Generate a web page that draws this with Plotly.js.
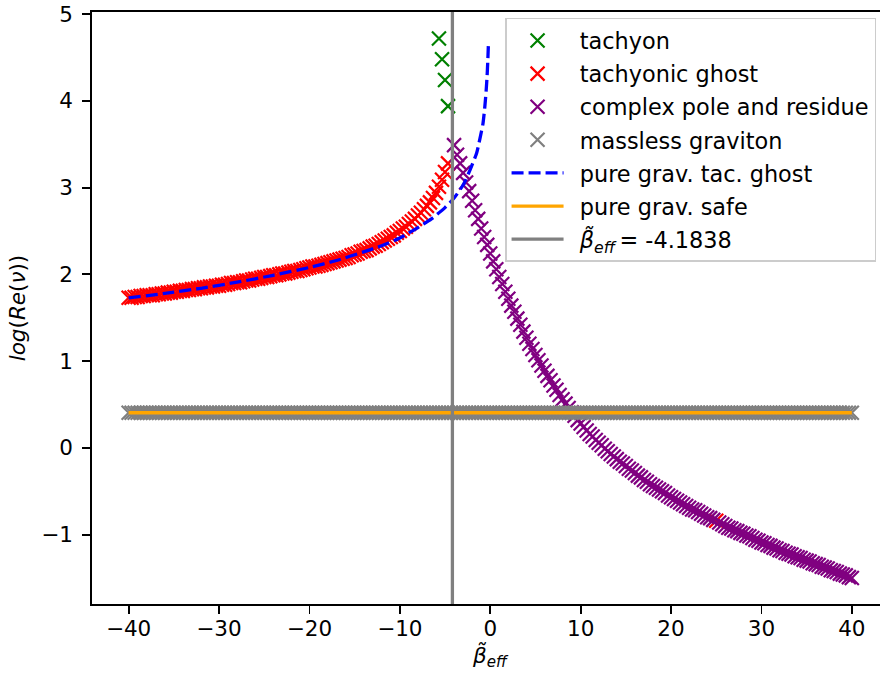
<!DOCTYPE html>
<html>
<head>
<meta charset="utf-8">
<script src="https://cdn.plot.ly/plotly-3.0.1.min.js"></script>
<style>
  html, body { margin: 0; padding: 0; background: #ffffff; overflow: hidden; }
  #chart { width: 900px; height: 679px; }
</style>
</head>
<body>
<div id="chart"></div>
<script>
// Pole classification of the propagator versus the effective coupling beta_eff.
// The scan runs over beta_eff in steps of 1/3; each series lists log(Re(nu)).

const BETA_GRID = [
  -40, -39.67, -39.33, -39, -38.67, -38.33, -38, -37.67, -37.33,
  -37, -36.67, -36.33, -36, -35.67, -35.33, -35, -34.67, -34.33,
  -34, -33.67, -33.33, -33, -32.67, -32.33, -32, -31.67, -31.33,
  -31, -30.67, -30.33, -30, -29.67, -29.33, -29, -28.67, -28.33,
  -28, -27.67, -27.33, -27, -26.67, -26.33, -26, -25.67, -25.33,
  -25, -24.67, -24.33, -24, -23.67, -23.33, -23, -22.67, -22.33,
  -22, -21.67, -21.33, -21, -20.67, -20.33, -20, -19.67, -19.33,
  -19, -18.67, -18.33, -18, -17.67, -17.33, -17, -16.67, -16.33,
  -16, -15.67, -15.33, -15, -14.67, -14.33, -14, -13.67, -13.33,
  -13, -12.67, -12.33, -12, -11.67, -11.33, -11, -10.67, -10.33,
  -10, -9.67, -9.33, -9, -8.67, -8.33, -8, -7.67, -7.33,
  -7, -6.67, -6.33, -6, -5.67, -5.33, -5, -4.67, -4.33,
  -4, -3.67, -3.33, -3, -2.67, -2.33, -2, -1.67, -1.33,
  -1, -0.67, -0.33, 0, 0.33, 0.67, 1, 1.33, 1.67,
  2, 2.33, 2.67, 3, 3.33, 3.67, 4, 4.33, 4.67,
  5, 5.33, 5.67, 6, 6.33, 6.67, 7, 7.33, 7.67,
  8, 8.33, 8.67, 9, 9.33, 9.67, 10, 10.33, 10.67,
  11, 11.33, 11.67, 12, 12.33, 12.67, 13, 13.33, 13.67,
  14, 14.33, 14.67, 15, 15.33, 15.67, 16, 16.33, 16.67,
  17, 17.33, 17.67, 18, 18.33, 18.67, 19, 19.33, 19.67,
  20, 20.33, 20.67, 21, 21.33, 21.67, 22, 22.33, 22.67,
  23, 23.33, 23.67, 24, 24.33, 24.67, 25, 25.33, 25.67,
  26, 26.33, 26.67, 27, 27.33, 27.67, 28, 28.33, 28.67,
  29, 29.33, 29.67, 30, 30.33, 30.67, 31, 31.33, 31.67,
  32, 32.33, 32.67, 33, 33.33, 33.67, 34, 34.33, 34.67,
  35, 35.33, 35.67, 36, 36.33, 36.67, 37, 37.33, 37.67,
  38, 38.33, 38.67, 39, 39.33, 39.67, 40
];

const TACHYON_X = [-5.67, -5.33, -5, -4.67];
const TACHYON_Y = [4.72, 4.48, 4.24, 3.94];

// tachyonic ghost: beta_eff = -40 ... -4.67, plus one point at 25
const GHOST_X = BETA_GRID.slice(0, 107).concat([25]);
const GHOST_Y = [
  1.73, 1.73, 1.74, 1.74, 1.75, 1.75, 1.76, 1.76, 1.76,
  1.77, 1.77, 1.78, 1.78, 1.79, 1.79, 1.80, 1.80, 1.81,
  1.81, 1.82, 1.82, 1.83, 1.83, 1.84, 1.84, 1.85, 1.85,
  1.86, 1.86, 1.87, 1.87, 1.88, 1.88, 1.89, 1.90, 1.90,
  1.91, 1.91, 1.92, 1.93, 1.93, 1.94, 1.95, 1.95, 1.96,
  1.97, 1.97, 1.98, 1.99, 1.99, 2.00, 2.01, 2.01, 2.02,
  2.03, 2.04, 2.04, 2.05, 2.06, 2.07, 2.08, 2.09, 2.09,
  2.10, 2.11, 2.12, 2.13, 2.14, 2.15, 2.16, 2.17, 2.18,
  2.19, 2.20, 2.22, 2.23, 2.24, 2.26, 2.27, 2.28, 2.30,
  2.32, 2.33, 2.35, 2.37, 2.39, 2.41, 2.43, 2.45, 2.48,
  2.50, 2.53, 2.55, 2.58, 2.61, 2.64, 2.68, 2.71, 2.75,
  2.79, 2.83, 2.88, 2.94, 3.01, 3.09, 3.18, 3.28,
  -0.84
];

// complex pole and residue: beta_eff = -4 ... 40 (the 25 point is a ghost)
const COMPLEX_X = BETA_GRID.slice(108).filter(b => b !== 25);
const COMPLEX_Y = [
  3.49, 3.38, 3.28, 3.17, 3.06, 2.96, 2.85, 2.74, 2.64,
  2.53, 2.43, 2.34, 2.24, 2.15, 2.06, 1.97, 1.89, 1.80,
  1.72, 1.64, 1.57, 1.49, 1.42, 1.34, 1.27, 1.20, 1.14,
  1.07, 1.01, 0.95, 0.89, 0.83, 0.78, 0.72, 0.67, 0.61,
  0.56, 0.51, 0.46, 0.41, 0.37, 0.32, 0.28, 0.24, 0.20,
  0.16, 0.13, 0.09, 0.06, 0.03, -0.01, -0.04, -0.07, -0.10,
  -0.13, -0.16, -0.18, -0.21, -0.24, -0.26, -0.29, -0.32, -0.34,
  -0.37, -0.39, -0.42, -0.44, -0.46, -0.48, -0.50, -0.52, -0.55,
  -0.57, -0.59, -0.61, -0.63, -0.65, -0.67, -0.69, -0.71, -0.72,
  -0.74, -0.76, -0.78, -0.80, -0.81, -0.83, -0.86, -0.88,
  -0.90, -0.92, -0.93, -0.95, -0.96, -0.98, -0.99, -1.01, -1.02,
  -1.04, -1.06, -1.07, -1.09, -1.10, -1.12, -1.13, -1.15, -1.16,
  -1.18, -1.19, -1.21, -1.22, -1.23, -1.25, -1.26, -1.27, -1.29,
  -1.30, -1.31, -1.33, -1.34, -1.35, -1.37, -1.38, -1.39, -1.41,
  -1.42, -1.43, -1.45, -1.46, -1.47, -1.49, -1.50
];

// massless graviton: present over the whole scan
const GRAVITON_X = BETA_GRID;
const GRAVITON_Y = [
  0.405, 0.405, 0.405, 0.405, 0.405, 0.405, 0.405, 0.405, 0.405, 0.405,
  0.405, 0.405, 0.405, 0.405, 0.405, 0.405, 0.405, 0.405, 0.405, 0.405,
  0.405, 0.405, 0.405, 0.405, 0.405, 0.405, 0.405, 0.405, 0.405, 0.405,
  0.405, 0.405, 0.405, 0.405, 0.405, 0.405, 0.405, 0.405, 0.405, 0.405,
  0.405, 0.405, 0.405, 0.405, 0.405, 0.405, 0.405, 0.405, 0.405, 0.405,
  0.405, 0.405, 0.405, 0.405, 0.405, 0.405, 0.405, 0.405, 0.405, 0.405,
  0.405, 0.405, 0.405, 0.405, 0.405, 0.405, 0.405, 0.405, 0.405, 0.405,
  0.405, 0.405, 0.405, 0.405, 0.405, 0.405, 0.405, 0.405, 0.405, 0.405,
  0.405, 0.405, 0.405, 0.405, 0.405, 0.405, 0.405, 0.405, 0.405, 0.405,
  0.405, 0.405, 0.405, 0.405, 0.405, 0.405, 0.405, 0.405, 0.405, 0.405,
  0.405, 0.405, 0.405, 0.405, 0.405, 0.405, 0.405, 0.405, 0.405, 0.405,
  0.405, 0.405, 0.405, 0.405, 0.405, 0.405, 0.405, 0.405, 0.405, 0.405,
  0.405, 0.405, 0.405, 0.405, 0.405, 0.405, 0.405, 0.405, 0.405, 0.405,
  0.405, 0.405, 0.405, 0.405, 0.405, 0.405, 0.405, 0.405, 0.405, 0.405,
  0.405, 0.405, 0.405, 0.405, 0.405, 0.405, 0.405, 0.405, 0.405, 0.405,
  0.405, 0.405, 0.405, 0.405, 0.405, 0.405, 0.405, 0.405, 0.405, 0.405,
  0.405, 0.405, 0.405, 0.405, 0.405, 0.405, 0.405, 0.405, 0.405, 0.405,
  0.405, 0.405, 0.405, 0.405, 0.405, 0.405, 0.405, 0.405, 0.405, 0.405,
  0.405, 0.405, 0.405, 0.405, 0.405, 0.405, 0.405, 0.405, 0.405, 0.405,
  0.405, 0.405, 0.405, 0.405, 0.405, 0.405, 0.405, 0.405, 0.405, 0.405,
  0.405, 0.405, 0.405, 0.405, 0.405, 0.405, 0.405, 0.405, 0.405, 0.405,
  0.405, 0.405, 0.405, 0.405, 0.405, 0.405, 0.405, 0.405, 0.405, 0.405,
  0.405, 0.405, 0.405, 0.405, 0.405, 0.405, 0.405, 0.405, 0.405, 0.405,
  0.405, 0.405, 0.405, 0.405, 0.405, 0.405, 0.405, 0.405, 0.405, 0.405,
  0.405
];

// Pure-gravity reference curves
const PURE_GHOST_X = [-40, -36, -32, -28, -24, -20, -17, -14, -12, -10, -8, -6.5, -5, -4, -3, -2.25, -1.5, -1.15, -0.8, -0.6, -0.45, -0.35, -0.27, -0.2];
const PURE_GHOST_Y = [1.73, 1.78, 1.84, 1.91, 1.99, 2.08, 2.16, 2.26, 2.33, 2.42, 2.54, 2.64, 2.77, 2.88, 3.03, 3.20, 3.40, 3.56, 3.74, 3.93, 4.12, 4.28, 4.46, 4.66];
const PURE_SAFE_X = [-40, 40];
const PURE_SAFE_Y = [0.405, 0.405];

// Critical coupling
const BETA_CRIT = -4.1838;

const X_RANGE = [-44.05, 44.0];
const Y_RANGE = [-1.80, 5.025];
const X_TICKS = [-40, -30, -20, -10, 0, 10, 20, 30, 40];
const Y_TICKS = [-1, 0, 1, 2, 3, 4, 5];

const FONT = 'DejaVu Sans, Liberation Sans, sans-serif';
const FS = 21.5;
const LEGEND_FS = 22.4;
const GAP = '\u2002'; // spacing between legend sample and label

function crosses(name, xs, ys, color) {
  return {
    type: 'scatter', mode: 'markers', name: GAP + name, x: xs, y: ys,
    legendgroup: name,
    marker: { symbol: 'x-thin', size: 14, color: color, line: { color: color, width: 2.2 } },
    hoverinfo: 'skip'
  };
}

const traces = [
  crosses('tachyon', TACHYON_X, TACHYON_Y, 'green'),
  crosses('tachyonic ghost', GHOST_X, GHOST_Y, 'red'),
  crosses('complex pole and residue', COMPLEX_X, COMPLEX_Y, 'purple'),
  crosses('massless graviton', GRAVITON_X, GRAVITON_Y, 'gray'),
  {
    type: 'scatter', mode: 'lines', name: GAP + 'pure grav. tac. ghost', legendgroup: 'pg',
    x: PURE_GHOST_X, y: PURE_GHOST_Y, line: { color: 'blue', width: 3.3, dash: '12px,5px', shape: 'spline', smoothing: 0.6 },
    hoverinfo: 'skip'
  },
  {
    type: 'scatter', mode: 'lines', name: GAP + 'pure grav. safe', legendgroup: 'ps',
    x: PURE_SAFE_X, y: PURE_SAFE_Y, line: { color: 'orange', width: 3.3 },
    hoverinfo: 'skip'
  },
  {
    type: 'scatter', mode: 'lines', name: GAP + '<i>β̃</i><sub><i>eff</i></sub>\u2009= -4.1838', legendgroup: 'bc',
    x: [BETA_CRIT, BETA_CRIT], y: Y_RANGE, line: { color: 'gray', width: 3.3 },
    hoverinfo: 'skip'
  }
];

const axisBase = {
  showline: true, linecolor: 'black', linewidth: 1.8, mirror: true,
  showgrid: false, zeroline: false,
  ticks: 'outside', ticklen: 8, tickwidth: 1.8, tickcolor: 'black',
  tickfont: { family: FONT, size: FS, color: 'black' }
};

const layout = {
  width: 900, height: 679,
  margin: { l: 92, r: 12, t: 12, b: 75, pad: 0 },
  paper_bgcolor: 'white', plot_bgcolor: 'white',
  font: { family: FONT, size: FS, color: 'black' },
  showlegend: true,
  xaxis: Object.assign({}, axisBase, {
    range: X_RANGE, tickmode: 'array', tickvals: X_TICKS, ticklabelstandoff: -4,
    title: { text: '<i>β̃</i><sub><i>eff</i></sub>', font: { family: FONT, size: FS }, standoff: 1 }
  }),
  yaxis: Object.assign({}, axisBase, {
    range: Y_RANGE, tickmode: 'array', tickvals: Y_TICKS, ticklabelstandoff: 5,
    title: { text: '<i>log</i>(<i>Re</i>(<i>ν</i>))', font: { family: FONT, size: FS }, standoff: 10 }
  }),
  legend: {
    x: 0.985, y: 0.99, xanchor: 'right', yanchor: 'top',
    bgcolor: 'rgba(255,255,255,0.8)', bordercolor: '#cccccc', borderwidth: 1.5,
    font: { family: FONT, size: LEGEND_FS, color: 'black' },
    tracegroupgap: 1, itemwidth: 52
  }
};

Plotly.newPlot('chart', traces, layout, { displayModeBar: false, staticPlot: true });
</script>
</body>
</html>
